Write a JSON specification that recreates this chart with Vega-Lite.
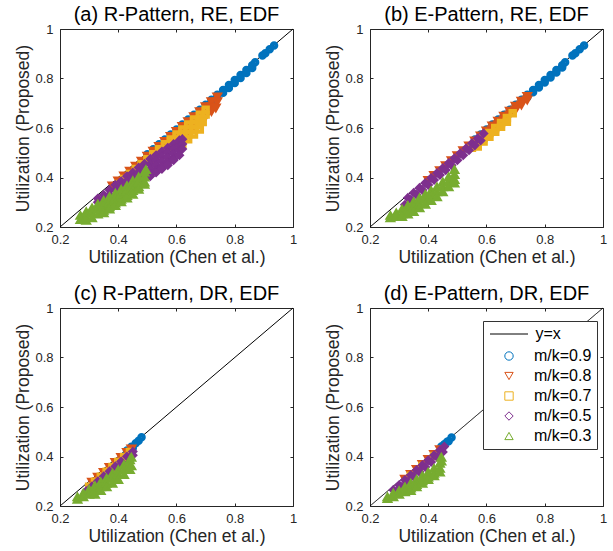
{
  "$schema": "https://vega.github.io/schema/vega-lite/v6.json",
  "background": "white",
  "padding": {"left": 14, "top": 4, "right": 5, "bottom": 5},
  "columns": 2,
  "spacing": {"row": 81, "column": 77},
  "bounds": "flush",
  "resolve": {"legend": {"color": "independent", "shape": "independent", "strokeDash": "independent"}},
  "datasets": {
    "line": [{"x": 0.2, "y": 0.2}, {"x": 1, "y": 1}],
    "a": [
      {"s":"0.9","x":0.50,"y":0.494},{"s":"0.9","x":0.52,"y":0.514},{"s":"0.9","x":0.54,"y":0.534},{"s":"0.9","x":0.56,"y":0.554},{"s":"0.9","x":0.58,"y":0.574},{"s":"0.9","x":0.60,"y":0.594},{"s":"0.9","x":0.62,"y":0.614},{"s":"0.9","x":0.64,"y":0.634},{"s":"0.9","x":0.66,"y":0.654},{"s":"0.9","x":0.68,"y":0.674},{"s":"0.9","x":0.70,"y":0.694},{"s":"0.9","x":0.72,"y":0.714},{"s":"0.9","x":0.74,"y":0.734},{"s":"0.9","x":0.76,"y":0.754},{"s":"0.9","x":0.78,"y":0.774},{"s":"0.9","x":0.80,"y":0.794},{"s":"0.9","x":0.82,"y":0.814},{"s":"0.9","x":0.84,"y":0.834},{"s":"0.9","x":0.86,"y":0.854},
      {"s":"0.9","x":0.70,"y":0.682},{"s":"0.9","x":0.72,"y":0.702},{"s":"0.9","x":0.74,"y":0.722},{"s":"0.9","x":0.76,"y":0.742},{"s":"0.9","x":0.78,"y":0.762},{"s":"0.9","x":0.80,"y":0.782},{"s":"0.9","x":0.82,"y":0.802},{"s":"0.9","x":0.84,"y":0.822},{"s":"0.9","x":0.86,"y":0.842},
      {"s":"0.9","x":0.87,"y":0.866},{"s":"0.9","x":0.895,"y":0.893},{"s":"0.9","x":0.905,"y":0.902},{"s":"0.9","x":0.92,"y":0.918},{"s":"0.9","x":0.935,"y":0.933},
      {"s":"0.8","x":0.38,"y":0.368},{"s":"0.8","x":0.40,"y":0.388},{"s":"0.8","x":0.42,"y":0.408},{"s":"0.8","x":0.44,"y":0.428},{"s":"0.8","x":0.46,"y":0.448},{"s":"0.8","x":0.48,"y":0.468},{"s":"0.8","x":0.50,"y":0.488},{"s":"0.8","x":0.52,"y":0.508},{"s":"0.8","x":0.54,"y":0.528},{"s":"0.8","x":0.56,"y":0.548},{"s":"0.8","x":0.58,"y":0.568},{"s":"0.8","x":0.60,"y":0.588},{"s":"0.8","x":0.62,"y":0.608},{"s":"0.8","x":0.64,"y":0.628},{"s":"0.8","x":0.66,"y":0.648},{"s":"0.8","x":0.68,"y":0.668},{"s":"0.8","x":0.70,"y":0.688},{"s":"0.8","x":0.72,"y":0.708},{"s":"0.8","x":0.74,"y":0.728},
      {"s":"0.8","x":0.42,"y":0.388},{"s":"0.8","x":0.46,"y":0.428},{"s":"0.8","x":0.50,"y":0.468},{"s":"0.8","x":0.54,"y":0.508},{"s":"0.8","x":0.58,"y":0.548},{"s":"0.8","x":0.62,"y":0.588},{"s":"0.8","x":0.66,"y":0.628},{"s":"0.8","x":0.68,"y":0.648},{"s":"0.8","x":0.70,"y":0.668},{"s":"0.8","x":0.72,"y":0.688},{"s":"0.8","x":0.74,"y":0.708},
      {"s":"0.8","x":0.64,"y":0.588},{"s":"0.8","x":0.66,"y":0.608},{"s":"0.8","x":0.68,"y":0.628},{"s":"0.8","x":0.70,"y":0.648},{"s":"0.8","x":0.72,"y":0.668},{"s":"0.8","x":0.735,"y":0.683},
      {"s":"0.7","x":0.40,"y":0.374},{"s":"0.7","x":0.42,"y":0.394},{"s":"0.7","x":0.44,"y":0.414},{"s":"0.7","x":0.46,"y":0.434},{"s":"0.7","x":0.48,"y":0.454},{"s":"0.7","x":0.50,"y":0.474},{"s":"0.7","x":0.52,"y":0.494},{"s":"0.7","x":0.54,"y":0.514},{"s":"0.7","x":0.56,"y":0.534},{"s":"0.7","x":0.58,"y":0.554},{"s":"0.7","x":0.60,"y":0.574},{"s":"0.7","x":0.62,"y":0.594},{"s":"0.7","x":0.64,"y":0.614},{"s":"0.7","x":0.66,"y":0.634},{"s":"0.7","x":0.68,"y":0.654},{"s":"0.7","x":0.70,"y":0.674},
      {"s":"0.7","x":0.48,"y":0.434},{"s":"0.7","x":0.52,"y":0.474},{"s":"0.7","x":0.56,"y":0.514},{"s":"0.7","x":0.58,"y":0.534},{"s":"0.7","x":0.60,"y":0.554},{"s":"0.7","x":0.62,"y":0.574},{"s":"0.7","x":0.64,"y":0.594},{"s":"0.7","x":0.66,"y":0.614},{"s":"0.7","x":0.68,"y":0.634},{"s":"0.7","x":0.70,"y":0.654},
      {"s":"0.7","x":0.58,"y":0.514},{"s":"0.7","x":0.60,"y":0.534},{"s":"0.7","x":0.62,"y":0.554},{"s":"0.7","x":0.64,"y":0.574},{"s":"0.7","x":0.66,"y":0.594},{"s":"0.7","x":0.68,"y":0.614},{"s":"0.7","x":0.69,"y":0.624},
      {"s":"0.7","x":0.62,"y":0.534},{"s":"0.7","x":0.64,"y":0.554},{"s":"0.7","x":0.66,"y":0.574},{"s":"0.7","x":0.68,"y":0.594},
      {"s":"0.5","x":0.33,"y":0.315},{"s":"0.5","x":0.33,"y":0.30},
      {"s":"0.5","x":0.35,"y":0.33},{"s":"0.5","x":0.35,"y":0.31},{"s":"0.5","x":0.35,"y":0.30},
      {"s":"0.5","x":0.37,"y":0.35},{"s":"0.5","x":0.37,"y":0.33},{"s":"0.5","x":0.37,"y":0.31},
      {"s":"0.5","x":0.39,"y":0.37},{"s":"0.5","x":0.39,"y":0.35},{"s":"0.5","x":0.39,"y":0.33},{"s":"0.5","x":0.39,"y":0.32},
      {"s":"0.5","x":0.41,"y":0.385},{"s":"0.5","x":0.41,"y":0.365},{"s":"0.5","x":0.41,"y":0.345},{"s":"0.5","x":0.41,"y":0.33},
      {"s":"0.5","x":0.43,"y":0.405},{"s":"0.5","x":0.43,"y":0.385},{"s":"0.5","x":0.43,"y":0.365},{"s":"0.5","x":0.43,"y":0.345},
      {"s":"0.5","x":0.45,"y":0.42},{"s":"0.5","x":0.45,"y":0.40},{"s":"0.5","x":0.45,"y":0.38},{"s":"0.5","x":0.45,"y":0.36},
      {"s":"0.5","x":0.47,"y":0.44},{"s":"0.5","x":0.47,"y":0.42},{"s":"0.5","x":0.47,"y":0.40},{"s":"0.5","x":0.47,"y":0.38},
      {"s":"0.5","x":0.49,"y":0.455},{"s":"0.5","x":0.49,"y":0.435},{"s":"0.5","x":0.49,"y":0.415},{"s":"0.5","x":0.49,"y":0.395},
      {"s":"0.5","x":0.51,"y":0.475},{"s":"0.5","x":0.51,"y":0.455},{"s":"0.5","x":0.51,"y":0.435},{"s":"0.5","x":0.51,"y":0.415},{"s":"0.5","x":0.51,"y":0.405},
      {"s":"0.5","x":0.53,"y":0.49},{"s":"0.5","x":0.53,"y":0.47},{"s":"0.5","x":0.53,"y":0.45},{"s":"0.5","x":0.53,"y":0.43},{"s":"0.5","x":0.53,"y":0.42},
      {"s":"0.5","x":0.55,"y":0.505},{"s":"0.5","x":0.55,"y":0.485},{"s":"0.5","x":0.55,"y":0.465},{"s":"0.5","x":0.55,"y":0.445},{"s":"0.5","x":0.55,"y":0.435},
      {"s":"0.5","x":0.57,"y":0.52},{"s":"0.5","x":0.57,"y":0.50},{"s":"0.5","x":0.57,"y":0.48},{"s":"0.5","x":0.57,"y":0.46},{"s":"0.5","x":0.57,"y":0.45},
      {"s":"0.5","x":0.59,"y":0.535},{"s":"0.5","x":0.59,"y":0.515},{"s":"0.5","x":0.59,"y":0.495},{"s":"0.5","x":0.59,"y":0.475},{"s":"0.5","x":0.59,"y":0.47},
      {"s":"0.5","x":0.61,"y":0.55},{"s":"0.5","x":0.61,"y":0.53},{"s":"0.5","x":0.61,"y":0.51},{"s":"0.5","x":0.61,"y":0.49},
      {"s":"0.5","x":0.62,"y":0.555},{"s":"0.5","x":0.62,"y":0.535},{"s":"0.5","x":0.62,"y":0.515},
      {"s":"0.3","x":0.27,"y":0.245},{"s":"0.3","x":0.27,"y":0.228},
      {"s":"0.3","x":0.29,"y":0.26},{"s":"0.3","x":0.29,"y":0.24},{"s":"0.3","x":0.29,"y":0.225},
      {"s":"0.3","x":0.31,"y":0.275},{"s":"0.3","x":0.31,"y":0.255},{"s":"0.3","x":0.31,"y":0.235},
      {"s":"0.3","x":0.33,"y":0.29},{"s":"0.3","x":0.33,"y":0.27},{"s":"0.3","x":0.33,"y":0.25},
      {"s":"0.3","x":0.35,"y":0.305},{"s":"0.3","x":0.35,"y":0.285},{"s":"0.3","x":0.35,"y":0.265},{"s":"0.3","x":0.35,"y":0.255},
      {"s":"0.3","x":0.37,"y":0.32},{"s":"0.3","x":0.37,"y":0.30},{"s":"0.3","x":0.37,"y":0.28},{"s":"0.3","x":0.37,"y":0.27},
      {"s":"0.3","x":0.39,"y":0.335},{"s":"0.3","x":0.39,"y":0.315},{"s":"0.3","x":0.39,"y":0.295},{"s":"0.3","x":0.39,"y":0.285},
      {"s":"0.3","x":0.41,"y":0.35},{"s":"0.3","x":0.41,"y":0.33},{"s":"0.3","x":0.41,"y":0.31},{"s":"0.3","x":0.41,"y":0.30},
      {"s":"0.3","x":0.43,"y":0.365},{"s":"0.3","x":0.43,"y":0.345},{"s":"0.3","x":0.43,"y":0.325},{"s":"0.3","x":0.43,"y":0.315},
      {"s":"0.3","x":0.45,"y":0.385},{"s":"0.3","x":0.45,"y":0.365},{"s":"0.3","x":0.45,"y":0.345},{"s":"0.3","x":0.45,"y":0.33},
      {"s":"0.3","x":0.47,"y":0.40},{"s":"0.3","x":0.47,"y":0.38},{"s":"0.3","x":0.47,"y":0.36},{"s":"0.3","x":0.47,"y":0.35},
      {"s":"0.3","x":0.49,"y":0.42},{"s":"0.3","x":0.49,"y":0.40},{"s":"0.3","x":0.49,"y":0.38},{"s":"0.3","x":0.49,"y":0.37},
      {"s":"0.3","x":0.495,"y":0.43}
    ],
    "b": [
      {"s":"0.9","x":0.56,"y":0.554},{"s":"0.9","x":0.58,"y":0.574},{"s":"0.9","x":0.60,"y":0.594},{"s":"0.9","x":0.62,"y":0.614},{"s":"0.9","x":0.64,"y":0.634},{"s":"0.9","x":0.66,"y":0.654},{"s":"0.9","x":0.68,"y":0.674},{"s":"0.9","x":0.70,"y":0.694},{"s":"0.9","x":0.72,"y":0.714},{"s":"0.9","x":0.74,"y":0.734},{"s":"0.9","x":0.76,"y":0.754},{"s":"0.9","x":0.78,"y":0.774},{"s":"0.9","x":0.80,"y":0.794},{"s":"0.9","x":0.82,"y":0.814},{"s":"0.9","x":0.84,"y":0.834},{"s":"0.9","x":0.86,"y":0.854},
      {"s":"0.9","x":0.74,"y":0.724},{"s":"0.9","x":0.76,"y":0.744},{"s":"0.9","x":0.78,"y":0.764},{"s":"0.9","x":0.80,"y":0.784},{"s":"0.9","x":0.82,"y":0.804},{"s":"0.9","x":0.84,"y":0.824},{"s":"0.9","x":0.86,"y":0.844},
      {"s":"0.9","x":0.87,"y":0.866},{"s":"0.9","x":0.895,"y":0.893},{"s":"0.9","x":0.905,"y":0.902},{"s":"0.9","x":0.92,"y":0.918},{"s":"0.9","x":0.935,"y":0.933},
      {"s":"0.8","x":0.40,"y":0.39},{"s":"0.8","x":0.42,"y":0.41},{"s":"0.8","x":0.44,"y":0.43},{"s":"0.8","x":0.46,"y":0.45},{"s":"0.8","x":0.48,"y":0.47},{"s":"0.8","x":0.50,"y":0.49},{"s":"0.8","x":0.52,"y":0.51},{"s":"0.8","x":0.54,"y":0.53},{"s":"0.8","x":0.56,"y":0.55},{"s":"0.8","x":0.58,"y":0.57},{"s":"0.8","x":0.60,"y":0.59},{"s":"0.8","x":0.62,"y":0.61},{"s":"0.8","x":0.64,"y":0.63},{"s":"0.8","x":0.66,"y":0.65},{"s":"0.8","x":0.68,"y":0.67},{"s":"0.8","x":0.70,"y":0.69},{"s":"0.8","x":0.72,"y":0.71},{"s":"0.8","x":0.74,"y":0.73},
      {"s":"0.8","x":0.60,"y":0.575},{"s":"0.8","x":0.62,"y":0.595},{"s":"0.8","x":0.64,"y":0.615},{"s":"0.8","x":0.66,"y":0.635},{"s":"0.8","x":0.68,"y":0.655},{"s":"0.8","x":0.70,"y":0.675},{"s":"0.8","x":0.72,"y":0.695},{"s":"0.8","x":0.74,"y":0.715},
      {"s":"0.7","x":0.55,"y":0.52},{"s":"0.7","x":0.57,"y":0.54},{"s":"0.7","x":0.59,"y":0.56},{"s":"0.7","x":0.61,"y":0.58},{"s":"0.7","x":0.63,"y":0.60},{"s":"0.7","x":0.65,"y":0.62},{"s":"0.7","x":0.67,"y":0.64},{"s":"0.7","x":0.69,"y":0.66},
      {"s":"0.7","x":0.57,"y":0.525},{"s":"0.7","x":0.59,"y":0.545},{"s":"0.7","x":0.61,"y":0.565},{"s":"0.7","x":0.63,"y":0.585},{"s":"0.7","x":0.65,"y":0.605},{"s":"0.7","x":0.67,"y":0.625},
      {"s":"0.5","x":0.33,"y":0.318},{"s":"0.5","x":0.35,"y":0.338},{"s":"0.5","x":0.37,"y":0.358},{"s":"0.5","x":0.39,"y":0.378},{"s":"0.5","x":0.41,"y":0.398},{"s":"0.5","x":0.43,"y":0.418},{"s":"0.5","x":0.45,"y":0.438},{"s":"0.5","x":0.47,"y":0.458},{"s":"0.5","x":0.49,"y":0.478},{"s":"0.5","x":0.51,"y":0.498},{"s":"0.5","x":0.53,"y":0.518},{"s":"0.5","x":0.55,"y":0.538},{"s":"0.5","x":0.57,"y":0.558},{"s":"0.5","x":0.59,"y":0.578},
      {"s":"0.5","x":0.32,"y":0.29},{"s":"0.5","x":0.34,"y":0.31},{"s":"0.5","x":0.36,"y":0.33},{"s":"0.5","x":0.38,"y":0.35},{"s":"0.5","x":0.40,"y":0.37},{"s":"0.5","x":0.42,"y":0.39},{"s":"0.5","x":0.44,"y":0.41},{"s":"0.5","x":0.46,"y":0.43},{"s":"0.5","x":0.48,"y":0.45},{"s":"0.5","x":0.50,"y":0.47},{"s":"0.5","x":0.52,"y":0.49},{"s":"0.5","x":0.54,"y":0.51},{"s":"0.5","x":0.56,"y":0.53},{"s":"0.5","x":0.58,"y":0.55},
      {"s":"0.3","x":0.27,"y":0.245},{"s":"0.3","x":0.27,"y":0.235},
      {"s":"0.3","x":0.29,"y":0.255},{"s":"0.3","x":0.29,"y":0.24},
      {"s":"0.3","x":0.31,"y":0.27},{"s":"0.3","x":0.31,"y":0.25},{"s":"0.3","x":0.31,"y":0.24},
      {"s":"0.3","x":0.33,"y":0.285},{"s":"0.3","x":0.33,"y":0.265},{"s":"0.3","x":0.33,"y":0.25},
      {"s":"0.3","x":0.35,"y":0.30},{"s":"0.3","x":0.35,"y":0.28},{"s":"0.3","x":0.35,"y":0.26},
      {"s":"0.3","x":0.37,"y":0.315},{"s":"0.3","x":0.37,"y":0.295},{"s":"0.3","x":0.37,"y":0.275},
      {"s":"0.3","x":0.39,"y":0.33},{"s":"0.3","x":0.39,"y":0.31},{"s":"0.3","x":0.39,"y":0.29},
      {"s":"0.3","x":0.41,"y":0.345},{"s":"0.3","x":0.41,"y":0.325},{"s":"0.3","x":0.41,"y":0.305},
      {"s":"0.3","x":0.43,"y":0.36},{"s":"0.3","x":0.43,"y":0.34},{"s":"0.3","x":0.43,"y":0.32},
      {"s":"0.3","x":0.45,"y":0.38},{"s":"0.3","x":0.45,"y":0.36},{"s":"0.3","x":0.45,"y":0.34},
      {"s":"0.3","x":0.47,"y":0.40},{"s":"0.3","x":0.47,"y":0.38},{"s":"0.3","x":0.47,"y":0.36},
      {"s":"0.3","x":0.49,"y":0.43},{"s":"0.3","x":0.49,"y":0.41},{"s":"0.3","x":0.49,"y":0.39},{"s":"0.3","x":0.49,"y":0.375}
    ],
    "c": [
      {"s":"0.9","x":0.43,"y":0.424},{"s":"0.9","x":0.445,"y":0.439},{"s":"0.9","x":0.46,"y":0.454},{"s":"0.9","x":0.47,"y":0.464},{"s":"0.9","x":0.48,"y":0.478},{"s":"0.9","x":0.43,"y":0.414},{"s":"0.9","x":0.45,"y":0.434},
      {"s":"0.8","x":0.31,"y":0.298},{"s":"0.8","x":0.33,"y":0.318},{"s":"0.8","x":0.35,"y":0.338},{"s":"0.8","x":0.37,"y":0.358},{"s":"0.8","x":0.39,"y":0.378},{"s":"0.8","x":0.41,"y":0.398},{"s":"0.8","x":0.43,"y":0.418},{"s":"0.8","x":0.445,"y":0.433},{"s":"0.8","x":0.33,"y":0.30},{"s":"0.8","x":0.37,"y":0.34},{"s":"0.8","x":0.41,"y":0.38},{"s":"0.8","x":0.44,"y":0.41},
      {"s":"0.7","x":0.30,"y":0.278},{"s":"0.7","x":0.32,"y":0.298},{"s":"0.7","x":0.34,"y":0.318},{"s":"0.7","x":0.36,"y":0.338},{"s":"0.7","x":0.38,"y":0.358},{"s":"0.7","x":0.40,"y":0.378},{"s":"0.7","x":0.42,"y":0.398},{"s":"0.7","x":0.44,"y":0.418},
      {"s":"0.5","x":0.29,"y":0.26},{"s":"0.5","x":0.31,"y":0.28},{"s":"0.5","x":0.33,"y":0.30},{"s":"0.5","x":0.35,"y":0.32},{"s":"0.5","x":0.37,"y":0.34},{"s":"0.5","x":0.39,"y":0.36},{"s":"0.5","x":0.41,"y":0.38},{"s":"0.5","x":0.43,"y":0.40},{"s":"0.5","x":0.45,"y":0.42},{"s":"0.5","x":0.32,"y":0.275},{"s":"0.5","x":0.36,"y":0.315},{"s":"0.5","x":0.40,"y":0.355},{"s":"0.5","x":0.44,"y":0.395},{"s":"0.5","x":0.45,"y":0.405},
      {"s":"0.3","x":0.26,"y":0.235},{"s":"0.3","x":0.26,"y":0.225},
      {"s":"0.3","x":0.28,"y":0.25},{"s":"0.3","x":0.28,"y":0.235},
      {"s":"0.3","x":0.30,"y":0.265},{"s":"0.3","x":0.30,"y":0.245},
      {"s":"0.3","x":0.32,"y":0.28},{"s":"0.3","x":0.32,"y":0.26},{"s":"0.3","x":0.32,"y":0.245},
      {"s":"0.3","x":0.34,"y":0.295},{"s":"0.3","x":0.34,"y":0.275},{"s":"0.3","x":0.34,"y":0.26},
      {"s":"0.3","x":0.36,"y":0.31},{"s":"0.3","x":0.36,"y":0.29},{"s":"0.3","x":0.36,"y":0.275},
      {"s":"0.3","x":0.38,"y":0.33},{"s":"0.3","x":0.38,"y":0.31},{"s":"0.3","x":0.38,"y":0.29},
      {"s":"0.3","x":0.40,"y":0.345},{"s":"0.3","x":0.40,"y":0.325},{"s":"0.3","x":0.40,"y":0.305},
      {"s":"0.3","x":0.42,"y":0.365},{"s":"0.3","x":0.42,"y":0.345},{"s":"0.3","x":0.42,"y":0.325},
      {"s":"0.3","x":0.44,"y":0.385},{"s":"0.3","x":0.44,"y":0.365},{"s":"0.3","x":0.44,"y":0.345},
      {"s":"0.3","x":0.445,"y":0.395},{"s":"0.3","x":0.445,"y":0.36}
    ],
    "d": [
      {"s":"0.9","x":0.445,"y":0.44},{"s":"0.9","x":0.455,"y":0.45},{"s":"0.9","x":0.465,"y":0.46},{"s":"0.9","x":0.47,"y":0.462},{"s":"0.9","x":0.48,"y":0.477},
      {"s":"0.8","x":0.32,"y":0.31},{"s":"0.8","x":0.34,"y":0.33},{"s":"0.8","x":0.36,"y":0.35},{"s":"0.8","x":0.38,"y":0.37},{"s":"0.8","x":0.40,"y":0.39},{"s":"0.8","x":0.42,"y":0.41},{"s":"0.8","x":0.44,"y":0.43},
      {"s":"0.7","x":0.34,"y":0.322},{"s":"0.7","x":0.38,"y":0.362},{"s":"0.7","x":0.42,"y":0.402},
      {"s":"0.5","x":0.28,"y":0.265},{"s":"0.5","x":0.30,"y":0.285},{"s":"0.5","x":0.32,"y":0.305},{"s":"0.5","x":0.34,"y":0.325},{"s":"0.5","x":0.36,"y":0.345},{"s":"0.5","x":0.38,"y":0.365},{"s":"0.5","x":0.40,"y":0.385},{"s":"0.5","x":0.42,"y":0.405},{"s":"0.5","x":0.44,"y":0.425},{"s":"0.5","x":0.455,"y":0.44},
      {"s":"0.5","x":0.29,"y":0.258},{"s":"0.5","x":0.31,"y":0.278},{"s":"0.5","x":0.33,"y":0.298},{"s":"0.5","x":0.35,"y":0.318},{"s":"0.5","x":0.37,"y":0.338},{"s":"0.5","x":0.39,"y":0.358},{"s":"0.5","x":0.41,"y":0.378},{"s":"0.5","x":0.43,"y":0.398},{"s":"0.5","x":0.45,"y":0.418},
      {"s":"0.3","x":0.26,"y":0.235},{"s":"0.3","x":0.26,"y":0.228},
      {"s":"0.3","x":0.28,"y":0.25},{"s":"0.3","x":0.28,"y":0.235},
      {"s":"0.3","x":0.30,"y":0.26},{"s":"0.3","x":0.30,"y":0.245},
      {"s":"0.3","x":0.32,"y":0.275},{"s":"0.3","x":0.32,"y":0.255},
      {"s":"0.3","x":0.34,"y":0.29},{"s":"0.3","x":0.34,"y":0.27},{"s":"0.3","x":0.34,"y":0.26},
      {"s":"0.3","x":0.36,"y":0.305},{"s":"0.3","x":0.36,"y":0.285},{"s":"0.3","x":0.36,"y":0.275},
      {"s":"0.3","x":0.38,"y":0.32},{"s":"0.3","x":0.38,"y":0.30},{"s":"0.3","x":0.38,"y":0.29},
      {"s":"0.3","x":0.40,"y":0.335},{"s":"0.3","x":0.40,"y":0.315},{"s":"0.3","x":0.40,"y":0.305},
      {"s":"0.3","x":0.42,"y":0.35},{"s":"0.3","x":0.42,"y":0.33},{"s":"0.3","x":0.42,"y":0.32},
      {"s":"0.3","x":0.44,"y":0.37},{"s":"0.3","x":0.44,"y":0.35},{"s":"0.3","x":0.44,"y":0.335},
      {"s":"0.3","x":0.445,"y":0.395},{"s":"0.3","x":0.445,"y":0.38}
    ]
  },
  "concat": [
    {
      "title": "(a) R-Pattern, RE, EDF",
      "width": 233, "height": 198,
      "layer": [
        {"data": {"name": "line"}, "mark": {"type": "line", "color": "black", "strokeWidth": 1},
         "encoding": {
           "x": {"field": "x", "type": "quantitative", "scale": {"domain": [0.2, 1]}, "axis": {"orient": "bottom", "title": "Utilization (Chen et al.)", "values": [0.2, 0.4, 0.6, 0.8, 1], "format": "~g"}},
           "y": {"field": "y", "type": "quantitative", "scale": {"domain": [0.2, 1]}, "axis": {"orient": "left", "title": "Utilization (Proposed)", "values": [0.2, 0.4, 0.6, 0.8, 1], "format": "~g"}}
         }},
        {"data": {"name": "a"}, "mark": {"type": "point", "filled": false, "strokeWidth": 4, "size": 20, "opacity": 1},
         "encoding": {
           "x": {"field": "x", "type": "quantitative", "axis": {"orient": "top", "labels": false, "title": null, "values": [0.2, 0.4, 0.6, 0.8, 1]}},
           "y": {"field": "y", "type": "quantitative", "axis": {"orient": "right", "labels": false, "title": null, "values": [0.2, 0.4, 0.6, 0.8, 1]}},
           "color": {"field": "s", "type": "nominal", "scale": {"domain": ["0.9", "0.8", "0.7", "0.5", "0.3"], "range": ["#0072BD", "#D95319", "#EDB120", "#7E2F8E", "#77AC30"]}, "legend": null},
           "shape": {"field": "s", "type": "nominal", "scale": {"domain": ["0.9", "0.8", "0.7", "0.5", "0.3"], "range": ["circle", "triangle-down", "square", "diamond", "triangle-up"]}, "legend": null}
         }}
      ]
    },
    {
      "title": "(b) E-Pattern, RE, EDF",
      "width": 233, "height": 198,
      "layer": [
        {"data": {"name": "line"}, "mark": {"type": "line", "color": "black", "strokeWidth": 1},
         "encoding": {
           "x": {"field": "x", "type": "quantitative", "scale": {"domain": [0.2, 1]}, "axis": {"orient": "bottom", "title": "Utilization (Chen et al.)", "values": [0.2, 0.4, 0.6, 0.8, 1], "format": "~g"}},
           "y": {"field": "y", "type": "quantitative", "scale": {"domain": [0.2, 1]}, "axis": {"orient": "left", "title": "Utilization (Proposed)", "values": [0.2, 0.4, 0.6, 0.8, 1], "format": "~g"}}
         }},
        {"data": {"name": "b"}, "mark": {"type": "point", "filled": false, "strokeWidth": 4, "size": 20, "opacity": 1},
         "encoding": {
           "x": {"field": "x", "type": "quantitative", "axis": {"orient": "top", "labels": false, "title": null, "values": [0.2, 0.4, 0.6, 0.8, 1]}},
           "y": {"field": "y", "type": "quantitative", "axis": {"orient": "right", "labels": false, "title": null, "values": [0.2, 0.4, 0.6, 0.8, 1]}},
           "color": {"field": "s", "type": "nominal", "scale": {"domain": ["0.9", "0.8", "0.7", "0.5", "0.3"], "range": ["#0072BD", "#D95319", "#EDB120", "#7E2F8E", "#77AC30"]}, "legend": null},
           "shape": {"field": "s", "type": "nominal", "scale": {"domain": ["0.9", "0.8", "0.7", "0.5", "0.3"], "range": ["circle", "triangle-down", "square", "diamond", "triangle-up"]}, "legend": null}
         }}
      ]
    },
    {
      "title": "(c) R-Pattern, DR, EDF",
      "width": 233, "height": 198,
      "layer": [
        {"data": {"name": "line"}, "mark": {"type": "line", "color": "black", "strokeWidth": 1},
         "encoding": {
           "x": {"field": "x", "type": "quantitative", "scale": {"domain": [0.2, 1]}, "axis": {"orient": "bottom", "title": "Utilization (Chen et al.)", "values": [0.2, 0.4, 0.6, 0.8, 1], "format": "~g"}},
           "y": {"field": "y", "type": "quantitative", "scale": {"domain": [0.2, 1]}, "axis": {"orient": "left", "title": "Utilization (Proposed)", "values": [0.2, 0.4, 0.6, 0.8, 1], "format": "~g"}}
         }},
        {"data": {"name": "c"}, "mark": {"type": "point", "filled": false, "strokeWidth": 4, "size": 20, "opacity": 1},
         "encoding": {
           "x": {"field": "x", "type": "quantitative", "axis": {"orient": "top", "labels": false, "title": null, "values": [0.2, 0.4, 0.6, 0.8, 1]}},
           "y": {"field": "y", "type": "quantitative", "axis": {"orient": "right", "labels": false, "title": null, "values": [0.2, 0.4, 0.6, 0.8, 1]}},
           "color": {"field": "s", "type": "nominal", "scale": {"domain": ["0.9", "0.8", "0.7", "0.5", "0.3"], "range": ["#0072BD", "#D95319", "#EDB120", "#7E2F8E", "#77AC30"]}, "legend": null},
           "shape": {"field": "s", "type": "nominal", "scale": {"domain": ["0.9", "0.8", "0.7", "0.5", "0.3"], "range": ["circle", "triangle-down", "square", "diamond", "triangle-up"]}, "legend": null}
         }}
      ]
    },
    {
      "title": "(d) E-Pattern, DR, EDF",
      "width": 233, "height": 198,
      "layer": [
        {"data": {"name": "line"}, "mark": {"type": "line", "color": "black", "strokeWidth": 1},
         "encoding": {
           "x": {"field": "x", "type": "quantitative", "scale": {"domain": [0.2, 1]}, "axis": {"orient": "bottom", "title": "Utilization (Chen et al.)", "values": [0.2, 0.4, 0.6, 0.8, 1], "format": "~g"}},
           "y": {"field": "y", "type": "quantitative", "scale": {"domain": [0.2, 1]}, "axis": {"orient": "left", "title": "Utilization (Proposed)", "values": [0.2, 0.4, 0.6, 0.8, 1], "format": "~g"}},
           "strokeDash": {"datum": "y=x", "type": "nominal", "scale": {"domain": ["y=x"], "range": [[1, 0]]},
             "legend": {"orient": "none", "legendX": 113, "legendY": 1.5, "zindex": 2, "title": null, "padding": 5, "symbolSize": 1444, "symbolStrokeWidth": 1, "symbolStrokeColor": "black", "symbolType": "stroke", "symbolOffset": 1.5, "labelOffset": 7, "labelFontSize": 16, "labelColor": "black"}}
         }},
        {"data": {"name": "d"}, "mark": {"type": "point", "filled": false, "strokeWidth": 4, "size": 20, "opacity": 1},
         "encoding": {
           "x": {"field": "x", "type": "quantitative", "axis": {"orient": "top", "labels": false, "title": null, "values": [0.2, 0.4, 0.6, 0.8, 1]}},
           "y": {"field": "y", "type": "quantitative", "axis": {"orient": "right", "labels": false, "title": null, "values": [0.2, 0.4, 0.6, 0.8, 1]}},
           "color": {"field": "s", "type": "nominal", "scale": {"domain": ["0.9", "0.8", "0.7", "0.5", "0.3"], "range": ["#0072BD", "#D95319", "#EDB120", "#7E2F8E", "#77AC30"]},
             "legend": {"orient": "none", "legendX": 113, "legendY": 13, "zindex": 1, "title": "\u00a0", "titleFontSize": 16, "titlePadding": 6, "labelExpr": "'m/k=' + datum.value", "symbolOffset": 13, "labelOffset": 17, "columnPadding": 0, "padding": 5, "rowPadding": 4, "labelFontSize": 16, "labelColor": "black", "fillColor": "white", "strokeColor": "#333333", "symbolSize": 70, "symbolStrokeWidth": 1,
               "encode": {"symbols": {"update": {"strokeWidth": {"value": 1}}}}}},
           "shape": {"field": "s", "type": "nominal", "scale": {"domain": ["0.9", "0.8", "0.7", "0.5", "0.3"], "range": ["circle", "triangle-down", "square", "diamond", "triangle-up"]},
             "legend": {"orient": "none", "legendX": 113, "legendY": 13, "zindex": 1, "title": "\u00a0", "titleFontSize": 16, "titlePadding": 6, "labelExpr": "'m/k=' + datum.value", "symbolOffset": 13, "labelOffset": 17, "columnPadding": 0, "padding": 5, "rowPadding": 4, "labelFontSize": 16, "labelColor": "black", "fillColor": "white", "strokeColor": "#333333", "symbolSize": 70, "symbolStrokeWidth": 1,
               "encode": {"symbols": {"update": {"strokeWidth": {"value": 1}}}}}}
         }}
      ]
    }
  ],
  "config": {
    "font": "Liberation Sans",
    "view": {"stroke": "#262626", "strokeWidth": 1},
    "axis": {"grid": false, "domain": false, "tickSize": -3, "tickColor": "#262626", "labelFontSize": 13, "labelColor": "#262626", "labelFlush": false, "labelOverlap": false, "titleFontSize": 17.5, "titleFontWeight": "normal", "titleColor": "#262626"},
    "axisX": {"labelPadding": 9, "titlePadding": 2},
    "axisY": {"labelPadding": 10, "titlePadding": 2},
    "title": {"fontSize": 20, "fontWeight": "normal", "color": "black", "anchor": "middle", "baseline": "alphabetic", "offset": -2}
  }
}
